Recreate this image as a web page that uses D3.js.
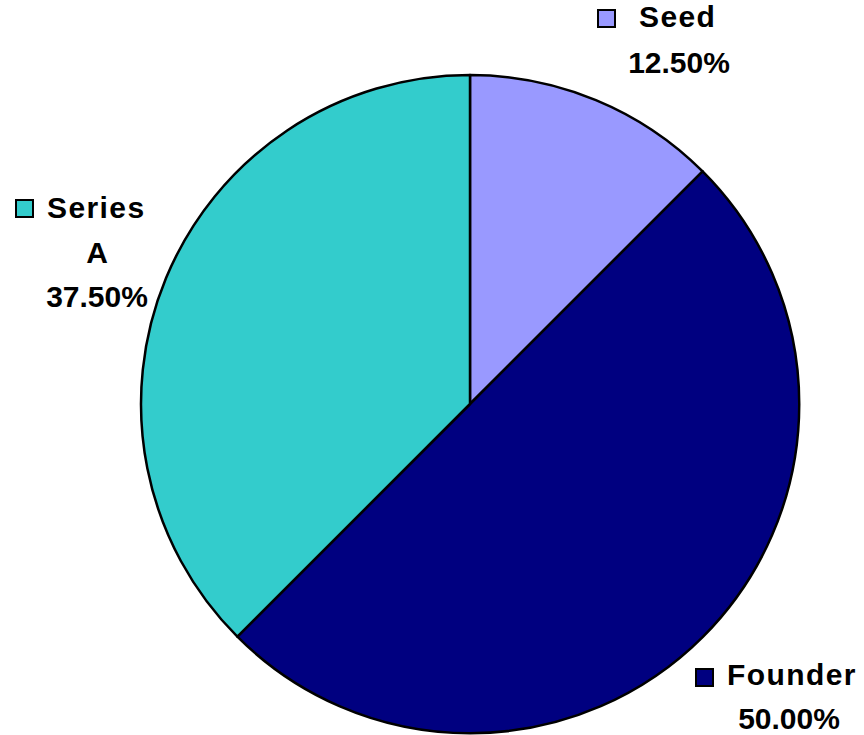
<!DOCTYPE html>
<html><head><meta charset="utf-8">
<script src="https://cdn.jsdelivr.net/npm/d3@7"></script>
<style>body{margin:0;background:#fff}svg{display:block}text{font-family:"Liberation Sans",Arial,sans-serif;font-weight:bold;font-size:30px;fill:#000}</style>
</head><body><svg id="c" width="864" height="735"></svg>
<script>
const categories = ["Seed", "Founder", "Series A"];
const values = [12.5, 50, 37.5];
const colors = ["#9999FF", "#000080", "#33CCCC"];
// label lines per category (text wraps like the original)
const labelLines = [["Seed", "12.50%"], ["Founder", "50.00%"], ["Series", "A", "37.50%"]];

const svg = d3.select("#c");
const cx = 470, cy = 404, r = 329;
const pie = d3.pie().sort(null).value(d => d)(values);
const arc = d3.arc().innerRadius(0).outerRadius(r);
const g = svg.append("g").attr("transform", `translate(${cx},${cy})`);
g.selectAll("path").data(pie).join("path")
  .attr("d", arc).attr("fill", (d, i) => colors[i])
  .attr("stroke", "#000").attr("stroke-width", 2.5).attr("stroke-linejoin", "round");

const layout = [
  {sx: 598, sy: 10, tx: 639, cxl: 679, by: 27, gaps: [46]},
  {sx: 696, sy: 669, tx: 727, cxl: 789, by: 685, gaps: [44]},
  {sx: 16, sy: 200, tx: 47, cxl: 97, by: 218, gaps: [45, 44]}
];
layout.forEach((L, i) => {
  svg.append("rect").attr("x", L.sx).attr("y", L.sy).attr("width", 17).attr("height", 17)
    .attr("fill", colors[i]).attr("stroke", "#000").attr("stroke-width", 2);
  let y = L.by;
  labelLines[i].forEach((t, j) => {
    if (j > 0) y += L.gaps[j - 1];
    svg.append("text").attr("x", j === 0 ? L.tx : L.cxl).attr("y", y)
      .attr("text-anchor", j === 0 ? "start" : "middle")
      .style("letter-spacing", j === 0 ? "1.4px" : null)
      .text(t);
  });
});
</script></body></html>
